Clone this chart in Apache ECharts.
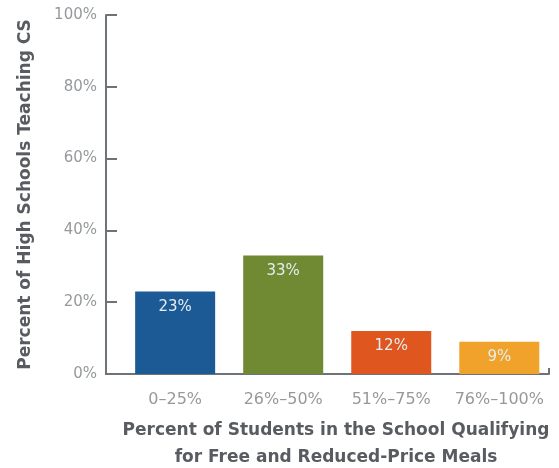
<!DOCTYPE html>
<html>
<head>
<meta charset="utf-8">
<script src="https://cdn.jsdelivr.net/npm/echarts@6/dist/echarts.min.js"></script>
<style>
  html, body { margin: 0; padding: 0; background: #fff; }
  #chart { width: 559px; height: 468px; }
</style>
</head>
<body>
<div id="chart"></div>
<script>
// Share of high schools teaching CS, by free/reduced-price meal eligibility
const categories = ['0–25%', '26%–50%', '51%–75%', '76%–100%'];
const values = [23, 33, 12, 9];
const barColors = ['#1c5a96', '#6f8a33', '#e0561f', '#f0a22a'];
const yTicks = [0, 20, 40, 60, 80, 100];

const FONT = '"DejaVu Sans", Verdana, sans-serif';
const axisGray = '#6e7378';

const chart = echarts.init(document.getElementById('chart'), null, { renderer: 'canvas' });

chart.setOption({
  animation: false,
  grid: { left: 106, right: 10, top: 15, bottom: 94, containLabel: false, outerBoundsMode: 'none' },
  xAxis: {
    type: 'value',
    min: -0.64,
    max: 3.46,
    splitLine: { show: false },
    axisLine: { show: true, onZero: false, lineStyle: { color: axisGray, width: 2 } },
    axisTick: {
      show: true, inside: true, length: 6,
      customValues: [3.46],
      lineStyle: { color: axisGray, width: 2 }
    },
    axisLabel: {
      customValues: categories.map((_, i) => i),
      formatter: v => categories[Math.round(v)],
      color: '#96999c', fontFamily: FONT, fontSize: 16, margin: 18
    },
    name: 'Percent of Students in the School Qualifying\nfor Free and Reduced-Price Meals',
    nameLocation: 'middle',
    nameGap: 43,
    nameTextStyle: {
      color: '#585c61', fontFamily: FONT, fontWeight: 'bold', fontSize: 17,
      lineHeight: 27, padding: [0, 0, 0, 17]
    }
  },
  yAxis: {
    type: 'value',
    min: 0, max: 100, interval: 20,
    splitLine: { show: false },
    axisLine: { show: true, onZero: false, lineStyle: { color: axisGray, width: 2 } },
    axisTick: { show: true, inside: true, length: 11, lineStyle: { color: axisGray, width: 2 } },
    axisLabel: {
      formatter: v => yTicks.includes(v) ? v + '%' : '',
      color: '#96999c', fontFamily: FONT, fontSize: 15, margin: 9
    },
    name: 'Percent of High Schools Teaching CS',
    nameLocation: 'middle',
    nameGap: 72,
    nameTextStyle: { color: '#585c61', fontFamily: FONT, fontWeight: 'bold', fontSize: 17 }
  },
  series: [{
    type: 'bar',
    barWidth: 80,
    data: values.map((v, i) => ({ value: [i, v], itemStyle: { color: barColors[i] } })),
    label: {
      show: true,
      position: 'insideTop',
      distance: 8,
      formatter: p => p.value[1] + '%',
      color: '#e6edf2', fontFamily: FONT, fontSize: 15
    }
  }]
});
</script>
</body>
</html>
